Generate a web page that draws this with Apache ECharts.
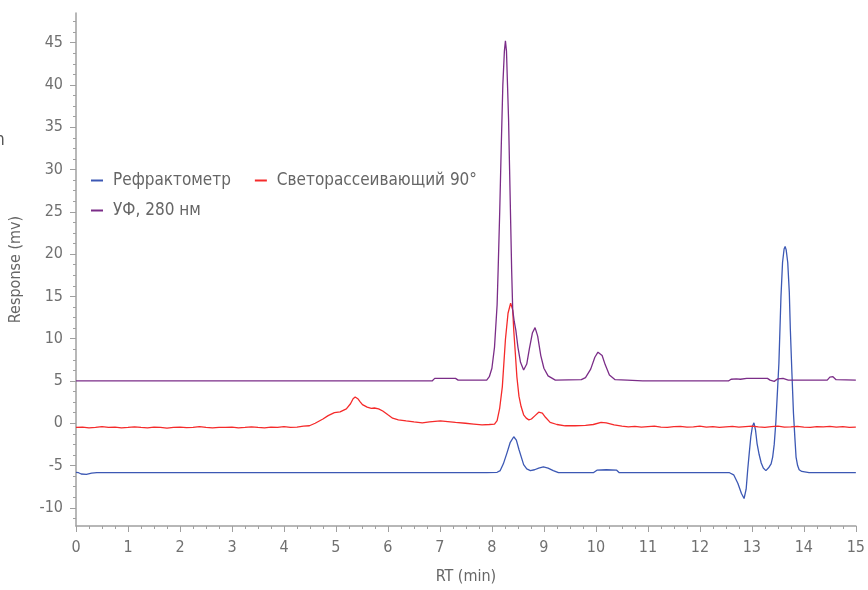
<!DOCTYPE html>
<html>
<head>
<meta charset="utf-8">
<script src="https://cdn.jsdelivr.net/npm/echarts@6/dist/echarts.min.js"></script>
<style>
html,body{margin:0;padding:0;background:#fff;}
#chart{width:868px;height:590px;}
</style>
</head>
<body>
<div id="chart"></div>
<script>
// ---- Data ----
var seriesNames = ['Рефрактометр', 'Светорассеивающий 90°', 'УФ, 280 нм'];

var riTimes = [0,0.05,0.1,0.2,0.3,0.4,7.9,8.1,8.16,8.22,8.29,8.35,8.42,8.47,8.52,8.57,8.61,8.67,8.74,8.82,8.9,8.99,9.08,9.18,9.28,9.95,10.02,10.2,10.4,10.45,12.57,12.65,12.73,12.8,12.85,12.89,12.92,12.95,12.98,13.01,13.04,13.07,13.1,13.14,13.18,13.22,13.27,13.33,13.37,13.4,13.43,13.46,13.49,13.52,13.56,13.59,13.62,13.64,13.66,13.69,13.72,13.74,13.77,13.8,13.83,13.85,13.88,13.91,13.96,14.1,15];
var riValues = [-5.8,-5.85,-6.0,-6.05,-5.9,-5.85,-5.85,-5.8,-5.6,-4.8,-3.5,-2.3,-1.6,-2.0,-3.1,-4.1,-4.9,-5.4,-5.6,-5.5,-5.3,-5.15,-5.3,-5.6,-5.85,-5.85,-5.55,-5.5,-5.55,-5.85,-5.85,-6.1,-7.1,-8.3,-8.9,-7.8,-5.5,-3.5,-1.6,-0.4,0.05,-0.8,-2.4,-3.7,-4.7,-5.3,-5.6,-5.2,-4.8,-4.0,-2.5,0,3.5,7.1,15,19,20.6,20.9,20.5,19,15.5,11.1,6,1.2,-2,-4,-5,-5.5,-5.7,-5.85,-5.85];

var lsTimes = [0,0.125,0.25,0.375,0.5,0.625,0.75,0.875,1.0,1.125,1.25,1.375,1.5,1.625,1.75,1.875,2.0,2.125,2.25,2.375,2.5,2.625,2.75,2.875,3.0,3.125,3.25,3.375,3.5,3.625,3.75,3.875,4.0,4.125,4.25,4.375,
  4.49,4.6,4.75,4.85,4.97,5.08,5.2,5.28,5.33,5.37,5.42,5.47,5.51,5.6,5.68,5.74,5.82,5.9,6.0,6.09,6.2,6.35,6.5,6.66,6.8,7.01,7.15,7.3,7.49,7.65,7.81,7.95,8.05,8.1,8.15,8.2,8.26,8.31,8.36,8.4,8.42,8.45,8.48,8.52,8.56,8.61,8.66,8.71,8.76,8.83,8.9,8.93,8.97,9.03,9.12,9.25,9.41,9.6,9.8,9.95,10.1,10.2,10.35,
  10.5,10.625,10.75,10.875,11.0,11.125,11.25,11.375,11.5,11.625,11.75,11.875,12.0,12.125,12.25,12.375,12.5,12.625,12.75,12.875,13.0,13.125,13.25,13.375,13.5,13.625,13.75,13.875,14.0,14.125,14.25,14.375,14.5,14.625,14.75,14.875,15];
var lsValues = [-0.5,-0.45,-0.55,-0.5,-0.4,-0.5,-0.45,-0.55,-0.5,-0.42,-0.5,-0.55,-0.45,-0.5,-0.58,-0.5,-0.45,-0.52,-0.5,-0.4,-0.5,-0.55,-0.48,-0.5,-0.45,-0.55,-0.5,-0.42,-0.5,-0.55,-0.47,-0.5,-0.4,-0.5,-0.45,-0.35,
  -0.3,0.0,0.5,0.9,1.25,1.35,1.7,2.3,2.9,3.1,2.9,2.5,2.2,1.9,1.75,1.8,1.7,1.45,1.0,0.6,0.4,0.27,0.15,0.05,0.15,0.27,0.2,0.1,0.0,-0.1,-0.2,-0.15,-0.1,0.3,1.8,4.3,9.9,13,14.2,13.4,11,8.3,5.5,3.2,2.0,1.0,0.6,0.4,0.5,0.9,1.3,1.4,1.2,0.7,0.1,-0.15,-0.3,-0.3,-0.25,-0.15,0.1,0.05,-0.2,
  -0.35,-0.42,-0.38,-0.45,-0.4,-0.35,-0.45,-0.5,-0.4,-0.38,-0.45,-0.42,-0.35,-0.45,-0.4,-0.5,-0.42,-0.38,-0.45,-0.4,-0.35,-0.42,-0.48,-0.4,-0.35,-0.45,-0.42,-0.38,-0.45,-0.5,-0.4,-0.42,-0.38,-0.45,-0.4,-0.48,-0.45];

var uvTimes = [0,6.85,6.9,7.3,7.35,7.9,7.95,8.0,8.05,8.1,8.12,8.15,8.18,8.21,8.24,8.26,8.28,8.3,8.32,8.34,8.36,8.38,8.4,8.43,8.46,8.5,8.55,8.61,8.67,8.72,8.78,8.83,8.88,8.94,9.0,9.08,9.22,9.72,9.8,9.9,9.98,10.04,10.07,10.12,10.18,10.26,10.37,10.6,10.9,12.55,12.6,12.7,12.73,12.78,12.9,13.3,13.35,13.43,13.5,13.6,13.7,14.45,14.5,14.56,14.62,15];
var uvValues = [5.0,5.0,5.3,5.3,5.1,5.1,5.5,6.5,9,14,18.2,25,32.8,40,44,45.2,44,40,36,30,24,18,13.4,12,11,9,7.2,6.3,7.0,8.8,10.7,11.3,10.3,8,6.5,5.6,5.1,5.15,5.4,6.4,7.8,8.4,8.5,8.0,6.9,5.7,5.15,5.1,5.0,5.0,5.2,5.25,5.4,5.2,5.3,5.3,5.1,4.95,5.25,5.3,5.1,5.1,5.45,5.5,5.15,5.1];

var yMajorTicks = [-10,-5,0,5,10,15,20,25,30,35,40,45];
var yMinorTicks = [-11.25,-8.75,-7.5,-6.25,-3.75,-2.5,-1.25,1.25,2.5,3.75,6.25,7.5,8.75,11.25,12.5,13.75,16.25,17.5,18.75,21.25,22.5,23.75,26.25,27.5,28.75,31.25,32.5,33.75,36.25,37.5,38.75,41.25,42.5,43.75,46.25,47.5];

function pairs(t, v){ return t.map(function(x,i){ return [x, v[i]]; }); }

var FONT = "'Liberation Sans Narrow','DejaVu Sans Condensed','Roboto',sans-serif";
var colors = ['#3c58b4', '#f52a2a', '#7b2d88'];
var yMin = -12.15, yMax = 48.5;

var legendText = { fontSize: 17, color: '#666', fontFamily: FONT, padding: [0, 0, 0, 5] };

var chart = echarts.init(document.getElementById('chart'));
chart.setOption({
  animation: false,
  backgroundColor: '#ffffff',
  color: colors,
  textStyle: { fontFamily: FONT },
  grid: { left: 76, right: 8, top: 13, bottom: 63, containLabel: false },
  graphic: [{
    type: 'text', left: -5, top: 132,
    style: { text: 'n', fontSize: 17, fill: '#555', fontFamily: FONT }
  }],
  legend: [{
    data: [seriesNames[0], seriesNames[1]],
    left: 86, top: 167, orient: 'horizontal', icon: 'rect',
    itemWidth: 12, itemHeight: 2, itemGap: 24,
    textStyle: legendText
  }, {
    data: [seriesNames[2]],
    left: 86, top: 197, orient: 'horizontal', icon: 'rect',
    itemWidth: 12, itemHeight: 2, itemGap: 24,
    textStyle: legendText
  }],
  xAxis: {
    type: 'value', min: 0, max: 15, interval: 1,
    name: 'RT (min)', nameLocation: 'middle', nameGap: 43,
    nameTextStyle: { fontSize: 16, color: '#666', fontFamily: FONT },
    axisLine: { show: true, onZero: false, lineStyle: { color: '#a0a0a0', width: 1.5 } },
    axisTick: { show: true, length: 6, lineStyle: { color: '#a0a0a0' } },
    minorTick: { show: true, splitNumber: 4, length: 3, lineStyle: { color: '#a0a0a0' } },
    axisLabel: { fontSize: 16, color: '#707070', margin: 14, fontFamily: FONT },
    splitLine: { show: false }
  },
  yAxis: [{
    type: 'value', min: yMin, max: yMax,
    name: 'Response (mv)', nameLocation: 'middle', nameGap: 52, nameRotate: 90,
    nameTextStyle: { fontSize: 16, color: '#666', fontFamily: FONT },
    axisLine: { show: true, onZero: false, lineStyle: { color: '#a0a0a0', width: 1.5 } },
    axisTick: { show: true, length: 6, customValues: yMajorTicks, lineStyle: { color: '#a0a0a0' } },
    axisLabel: { fontSize: 16, color: '#707070', margin: 13, customValues: yMajorTicks, fontFamily: FONT },
    splitLine: { show: false }
  }, {
    type: 'value', min: yMin, max: yMax, position: 'left', offset: 0,
    axisLine: { show: false },
    axisTick: { show: true, length: 3, customValues: yMinorTicks, lineStyle: { color: '#a0a0a0' } },
    axisLabel: { show: false },
    splitLine: { show: false }
  }],
  series: [{
    name: seriesNames[0], type: 'line', symbol: 'none', yAxisIndex: 0,
    lineStyle: { width: 1.3, color: colors[0] }, itemStyle: { color: colors[0] },
    data: pairs(riTimes, riValues)
  }, {
    name: seriesNames[1], type: 'line', symbol: 'none', yAxisIndex: 0,
    lineStyle: { width: 1.3, color: colors[1] }, itemStyle: { color: colors[1] },
    data: pairs(lsTimes, lsValues)
  }, {
    name: seriesNames[2], type: 'line', symbol: 'none', yAxisIndex: 0,
    lineStyle: { width: 1.3, color: colors[2] }, itemStyle: { color: colors[2] },
    data: pairs(uvTimes, uvValues)
  }]
});
</script>
</body>
</html>
